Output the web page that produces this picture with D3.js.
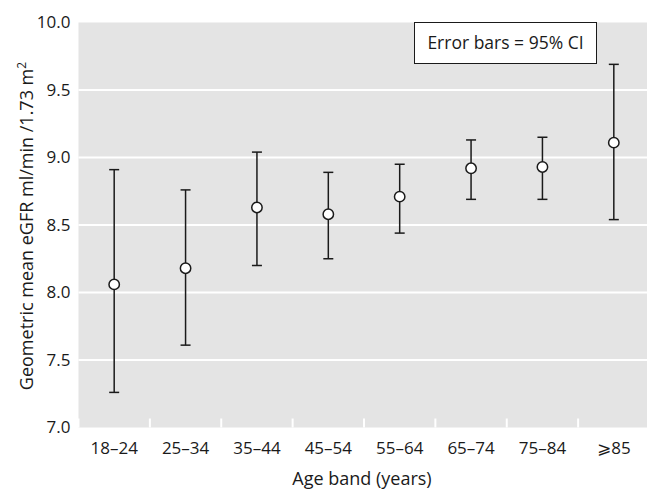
<!DOCTYPE html>
<html>
<head>
<meta charset="utf-8">
<script src="https://cdn.jsdelivr.net/npm/d3@7"></script>
<style>
  html, body { margin: 0; padding: 0; background: #fff; }
  svg { display: block; }
  text { font-family: "Open Sans", "DejaVu Sans", sans-serif; fill: #1a1a1a; }
</style>
</head>
<body>
<svg id="chart" width="647" height="491"></svg>
<script>
// Age bands and geometric mean eGFR with 95% confidence limits
const ageBands = ["18–24", "25–34", "35–44", "45–54", "55–64", "65–74", "75–84", "⩾85"];
const meanValues = [8.06, 8.18, 8.63, 8.58, 8.71, 8.92, 8.93, 9.11];
const lowerCI   = [7.26, 7.61, 8.20, 8.25, 8.44, 8.69, 8.69, 8.54];
const upperCI   = [8.91, 8.76, 9.04, 8.89, 8.95, 9.13, 9.15, 9.69];
const yTicks = [7.0, 7.5, 8.0, 8.5, 9.0, 9.5, 10.0];

const points = ageBands.map((band, i) => ({
  band, mean: meanValues[i], lo: lowerCI[i], hi: upperCI[i]
}));

const svg = d3.select("#chart");
const plot = { left: 78.5, right: 649.5, top: 22.5, bottom: 427.5 };

const x = d3.scaleBand().domain(ageBands).range([plot.left, plot.right]).padding(0);
const y = d3.scaleLinear().domain([7, 10]).range([plot.bottom, plot.top]);

// panel background
svg.append("rect")
  .attr("x", plot.left).attr("y", plot.top)
  .attr("width", plot.right - plot.left).attr("height", plot.bottom - plot.top)
  .attr("fill", "#e4e4e4");

// horizontal white gridlines
svg.append("g")
  .selectAll("line")
  .data(yTicks.filter(t => t > 7 && t < 10))
  .join("line")
  .attr("x1", plot.left).attr("x2", plot.right)
  .attr("y1", d => y(d)).attr("y2", d => y(d))
  .attr("stroke", "#fff").attr("stroke-width", 2);

// white tick notches on the band boundaries along the bottom
const boundaries = ageBands.map(b => x(b));
svg.append("g")
  .selectAll("line")
  .data(boundaries)
  .join("line")
  .attr("x1", d => d).attr("x2", d => d)
  .attr("y1", plot.bottom - 9).attr("y2", plot.bottom)
  .attr("stroke", "#fff").attr("stroke-width", 2);

// y axis labels
const yAxis = d3.axisLeft(y).tickValues(yTicks).tickFormat(d3.format(".1f")).tickSize(0).tickPadding(8);
const gy = svg.append("g").attr("transform", `translate(${plot.left},0)`).call(yAxis);
gy.select(".domain").remove();
gy.selectAll("text").attr("font-size", 17).attr("font-family", "Open Sans, DejaVu Sans, sans-serif").attr("fill", "#1a1a1a");

// x axis labels
const xAxis = d3.axisBottom(x).tickSize(0).tickPadding(14);
const gx = svg.append("g").attr("transform", `translate(0,${plot.bottom})`).call(xAxis);
gx.select(".domain").remove();
gx.selectAll("text").attr("font-size", 17).attr("font-family", "Open Sans, DejaVu Sans, sans-serif").attr("fill", "#1a1a1a");

// error bars
const cx = d => x(d.band) + x.bandwidth() / 2;
const bars = svg.append("g").attr("stroke", "#1a1a1a").attr("stroke-width", 1.5);
bars.selectAll("line.stem")
  .data(points).join("line").attr("class", "stem")
  .attr("x1", cx).attr("x2", cx)
  .attr("y1", d => y(d.lo)).attr("y2", d => y(d.hi));
bars.selectAll("line.capHi")
  .data(points).join("line").attr("class", "capHi")
  .attr("x1", d => cx(d) - 5).attr("x2", d => cx(d) + 5)
  .attr("y1", d => y(d.hi)).attr("y2", d => y(d.hi));
bars.selectAll("line.capLo")
  .data(points).join("line").attr("class", "capLo")
  .attr("x1", d => cx(d) - 5).attr("x2", d => cx(d) + 5)
  .attr("y1", d => y(d.lo)).attr("y2", d => y(d.lo));

// mean markers
svg.append("g").selectAll("circle")
  .data(points).join("circle")
  .attr("cx", cx).attr("cy", d => y(d.mean)).attr("r", 5.2)
  .attr("fill", "#fff").attr("stroke", "#1a1a1a").attr("stroke-width", 1.5);

// legend box
svg.append("rect")
  .attr("x", 414.5).attr("y", 22.5).attr("width", 182).attr("height", 41)
  .attr("fill", "#fff").attr("stroke", "#1a1a1a").attr("stroke-width", 1);
svg.append("text")
  .attr("x", 505.5).attr("y", 49)
  .attr("text-anchor", "middle").attr("font-size", 17.5)
  .text("Error bars = 95% CI");

// axis titles
svg.append("text")
  .attr("x", 362).attr("y", 485)
  .attr("text-anchor", "middle").attr("font-size", 18)
  .text("Age band (years)");

const yTitle = svg.append("text")
  .attr("transform", `translate(33,226) rotate(-90)`)
  .attr("text-anchor", "middle").attr("font-size", 18);
yTitle.append("tspan").text("Geometric mean eGFR ml/min /1.73 m");
yTitle.append("tspan").attr("dy", -7).attr("font-size", 12).text("2");
</script>
</body>
</html>
